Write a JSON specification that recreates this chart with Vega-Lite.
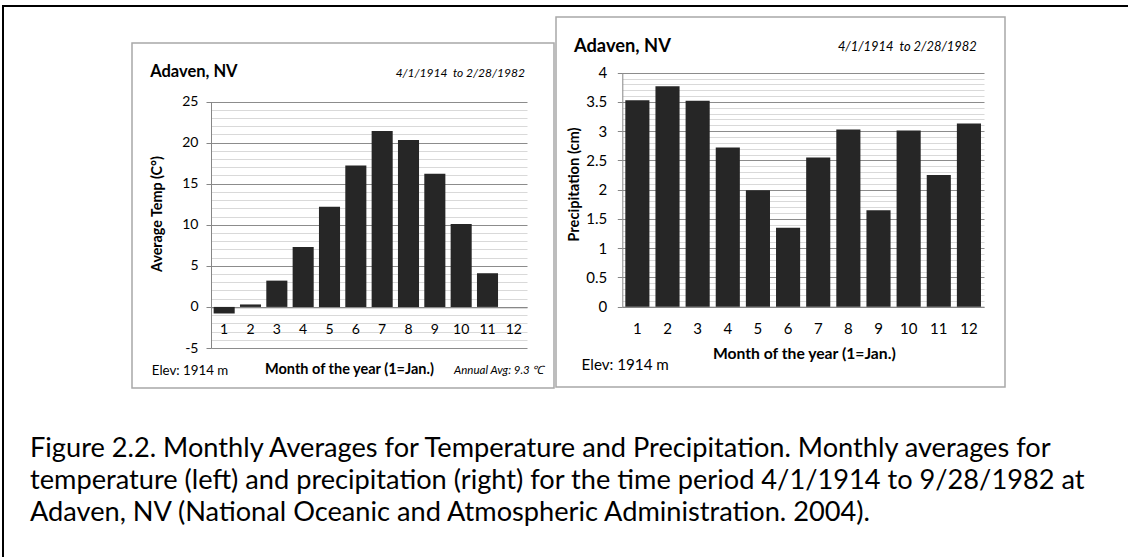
{
  "$schema": "https://vega.github.io/schema/vega-lite/v6.json",
  "width": 1128,
  "height": 557,
  "autosize": {"type": "none"},
  "padding": 0,
  "background": "white",
  "config": {
    "view": {"stroke": null},
    "font": "Lato",
    "axis": {"labelFont": "Lato", "titleFont": "Lato", "labelColor": "#000", "titleColor": "#000", "domainColor": "#868686", "tickColor": "#868686", "labelOverlap": false, "labelFlush": false}
  },
  "data": {"values": [
    {"month": 1, "temp": -0.8, "precip": 3.53},
    {"month": 2, "temp": 0.3, "precip": 3.77},
    {"month": 3, "temp": 3.2, "precip": 3.52},
    {"month": 4, "temp": 7.3, "precip": 2.72},
    {"month": 5, "temp": 12.2, "precip": 1.99},
    {"month": 6, "temp": 17.2, "precip": 1.35},
    {"month": 7, "temp": 21.4, "precip": 2.55},
    {"month": 8, "temp": 20.3, "precip": 3.03},
    {"month": 9, "temp": 16.2, "precip": 1.65},
    {"month": 10, "temp": 10.1, "precip": 3.01},
    {"month": 11, "temp": 4.1, "precip": 2.25},
    {"month": 12, "temp": 0, "precip": 3.13}
  ]},
  "title": {
    "text": [
      "Figure 2.2. Monthly Averages for Temperature and Precipitation. Monthly averages for",
      "temperature (left) and precipitation (right) for the time period 4/1/1914 to 9/28/1982 at",
      "Adaven, NV (National Oceanic and Atmospheric Administration. 2004)."
    ],
    "orient": "bottom",
    "anchor": "start",
    "frame": "group",
    "offset": -108.7,
    "dx": 30,
    "baseline": "alphabetic",
    "align": "left",
    "font": "Lato",
    "fontSize": 27.2,
    "fontWeight": "normal",
    "color": "#000",
    "lineHeight": 31.7
  },
  "layer": [
    {
      "data": {"values": [{}]},
      "mark": {"type": "rect", "filled": false, "stroke": "#000", "strokeWidth": 2},
      "encoding": {
        "x": {"datum": 0, "type": "quantitative", "scale": {"domain": [0, 1], "range": [3, 1135]}, "axis": null},
        "x2": {"datum": 1},
        "y": {"datum": 0, "type": "quantitative", "scale": {"domain": [0, 1], "range": [565, 6]}, "axis": null},
        "y2": {"datum": 1}
      }
    },
    {
      "data": {"values": [{}]},
      "encoding": {
        "x": {"datum": 0, "type": "quantitative", "scale": {"domain": [0, 100], "range": [132, 554]}, "axis": null},
        "y": {"datum": 0, "type": "quantitative", "scale": {"domain": [0, 100], "range": [388, 43]}, "axis": null}
      },
      "layer": [
        {
          "mark": {"type": "rect", "filled": false, "stroke": "#a8a8a8", "strokeWidth": 1.5},
          "encoding": {"x2": {"datum": 100}, "y2": {"datum": 100}}
        },
        {
          "mark": {"type": "text", "text": "Adaven, NV", "align": "left", "baseline": "alphabetic", "fontWeight": "bold", "fontSize": 16.5, "color": "#000"},
          "encoding": {"x": {"datum": 4.3, "axis": null}, "y": {"datum": 90.1, "axis": null}}
        },
        {
          "mark": {"type": "text", "text": "4/1/1914\u00a0 to 2/28/1982", "align": "right", "baseline": "alphabetic", "fontStyle": "italic", "fontSize": 12, "color": "#000"},
          "encoding": {"x": {"datum": 93.1, "axis": null}, "y": {"datum": 90.2, "axis": null}}
        },
        {
          "mark": {"type": "text", "text": "Elev: 1914 m", "align": "left", "baseline": "alphabetic", "fontSize": 13.3, "color": "#000"},
          "encoding": {"x": {"datum": 4.7, "axis": null}, "y": {"datum": 3.8, "axis": null}}
        },
        {
          "mark": {"type": "text", "text": "Annual Avg: 9.3 \u2103", "align": "right", "baseline": "alphabetic", "fontStyle": "italic", "fontSize": 11.5, "color": "#000"},
          "encoding": {"x": {"datum": 97.5, "axis": null}, "y": {"datum": 4.1, "axis": null}}
        }
      ]
    },
    {
      "data": {"values": [{}]},
      "encoding": {
        "x": {"datum": 0, "type": "quantitative", "scale": {"domain": [0, 100], "range": [556, 1005]}, "axis": null},
        "y": {"datum": 0, "type": "quantitative", "scale": {"domain": [0, 100], "range": [387, 17]}, "axis": null}
      },
      "layer": [
        {
          "mark": {"type": "rect", "filled": false, "stroke": "#a8a8a8", "strokeWidth": 1.5},
          "encoding": {"x2": {"datum": 100}, "y2": {"datum": 100}}
        },
        {
          "mark": {"type": "text", "text": "Adaven, NV", "align": "left", "baseline": "alphabetic", "fontWeight": "bold", "fontSize": 18.3, "color": "#000"},
          "encoding": {"x": {"datum": 4.0, "axis": null}, "y": {"datum": 90.6, "axis": null}}
        },
        {
          "mark": {"type": "text", "text": "4/1/1914\u00a0 to 2/28/1982", "align": "right", "baseline": "alphabetic", "fontStyle": "italic", "fontSize": 12.9, "color": "#000"},
          "encoding": {"x": {"datum": 93.7, "axis": null}, "y": {"datum": 90.9, "axis": null}}
        },
        {
          "mark": {"type": "text", "text": "Elev: 1914 m", "align": "left", "baseline": "alphabetic", "fontSize": 15.2, "color": "#000"},
          "encoding": {"x": {"datum": 5.7, "axis": null}, "y": {"datum": 4.6, "axis": null}}
        }
      ]
    },
    {
      "mark": {"type": "bar", "color": "#262626"},
      "encoding": {
        "x": {
          "field": "month", "type": "ordinal",
          "scale": {"range": [211, 527], "paddingInner": 0.2, "paddingOuter": 0.1},
          "axis": {"orient": "bottom", "offset": -249.7, "labelAngle": 0, "labelFontSize": 14, "labelBaseline": "alphabetic", "labelPadding": 26, "ticks": false, "domainColor": "#868686", "grid": false,
            "title": "Month of the year (1=Jan.)", "titleFontWeight": "bold", "titleFontSize": 14.5, "titleX": 349, "titleY": 66, "titleAlign": "center", "titleAnchor": "middle", "titleBaseline": "alphabetic"}
        },
        "y": {
          "field": "temp", "type": "quantitative",
          "scale": {"domain": [-5, 25], "range": [348, 101.5], "nice": false},
          "axis": {"orient": "left", "offset": -211,
            "values": [-5,-4,-3,-2,-1,0,1,2,3,4,5,6,7,8,9,10,11,12,13,14,15,16,17,18,19,20,21,22,23,24,25],
            "labelExpr": "datum.value % 5 === 0 ? ('' + datum.value) : ''",
            "labelFontSize": 14, "labelPadding": 8, "tickSize": 5,
            "tickColor": {"condition": {"test": "datum.value % 5 === 0", "value": "#868686"}, "value": "transparent"},
            "grid": true,
            "gridColor": {"condition": {"test": "datum.value % 5 === 0", "value": "#8c8c8c"}, "value": "#d9d9d9"},
            "title": "Average Temp (C°)", "titleFontWeight": "bold", "titleFontSize": 14.3, "titleX": -50, "titleY": 213.5, "titleAlign": "center", "titleAnchor": "middle", "titleBaseline": "alphabetic", "titleAngle": -90}
        }
      }
    },
    {
      "mark": {"type": "bar", "color": "#262626"},
      "encoding": {
        "x": {
          "field": "month", "type": "ordinal",
          "scale": {"range": [622.3, 984], "paddingInner": 0.2, "paddingOuter": 0.1},
          "axis": {"orient": "bottom", "offset": -250.3, "labelAngle": 0, "labelFontSize": 15, "labelBaseline": "alphabetic", "labelPadding": 26.6, "ticks": false, "domainColor": "#868686", "grid": false,
            "title": "Month of the year (1=Jan.)", "titleFontWeight": "bold", "titleFontSize": 15.7, "titleX": 803.8, "titleY": 51.6, "titleAlign": "center", "titleAnchor": "middle", "titleBaseline": "alphabetic"}
        },
        "y": {
          "field": "precip", "type": "quantitative",
          "scale": {"domain": [0, 4], "range": [306.7, 72.7], "nice": false},
          "axis": {"orient": "left", "offset": -622.3,
            "values": [0,0.1,0.2,0.3,0.4,0.5,0.6,0.7,0.8,0.9,1,1.1,1.2,1.3,1.4,1.5,1.6,1.7,1.8,1.9,2,2.1,2.2,2.3,2.4,2.5,2.6,2.7,2.8,2.9,3,3.1,3.2,3.3,3.4,3.5,3.6,3.7,3.8,3.9,4],
            "labelExpr": "abs(datum.value * 2 - round(datum.value * 2)) < 0.001 ? ('' + datum.value) : ''",
            "labelFontSize": 15, "labelPadding": 10.6, "tickSize": 5,
            "tickColor": {"condition": {"test": "abs(datum.value * 2 - round(datum.value * 2)) < 0.001", "value": "#868686"}, "value": "transparent"},
            "grid": true,
            "gridColor": {"condition": {"test": "abs(datum.value * 2 - round(datum.value * 2)) < 0.001", "value": "#8c8c8c"}, "value": "#d9d9d9"},
            "title": "Precipitation (cm)", "titleFontWeight": "bold", "titleFontSize": 14.7, "titleX": -44, "titleY": 184, "titleAlign": "center", "titleAnchor": "middle", "titleBaseline": "alphabetic", "titleAngle": -90}
        }
      }
    }
  ],
  "resolve": {
    "scale": {"x": "independent", "y": "independent"},
    "axis": {"x": "independent", "y": "independent"}
  }
}
